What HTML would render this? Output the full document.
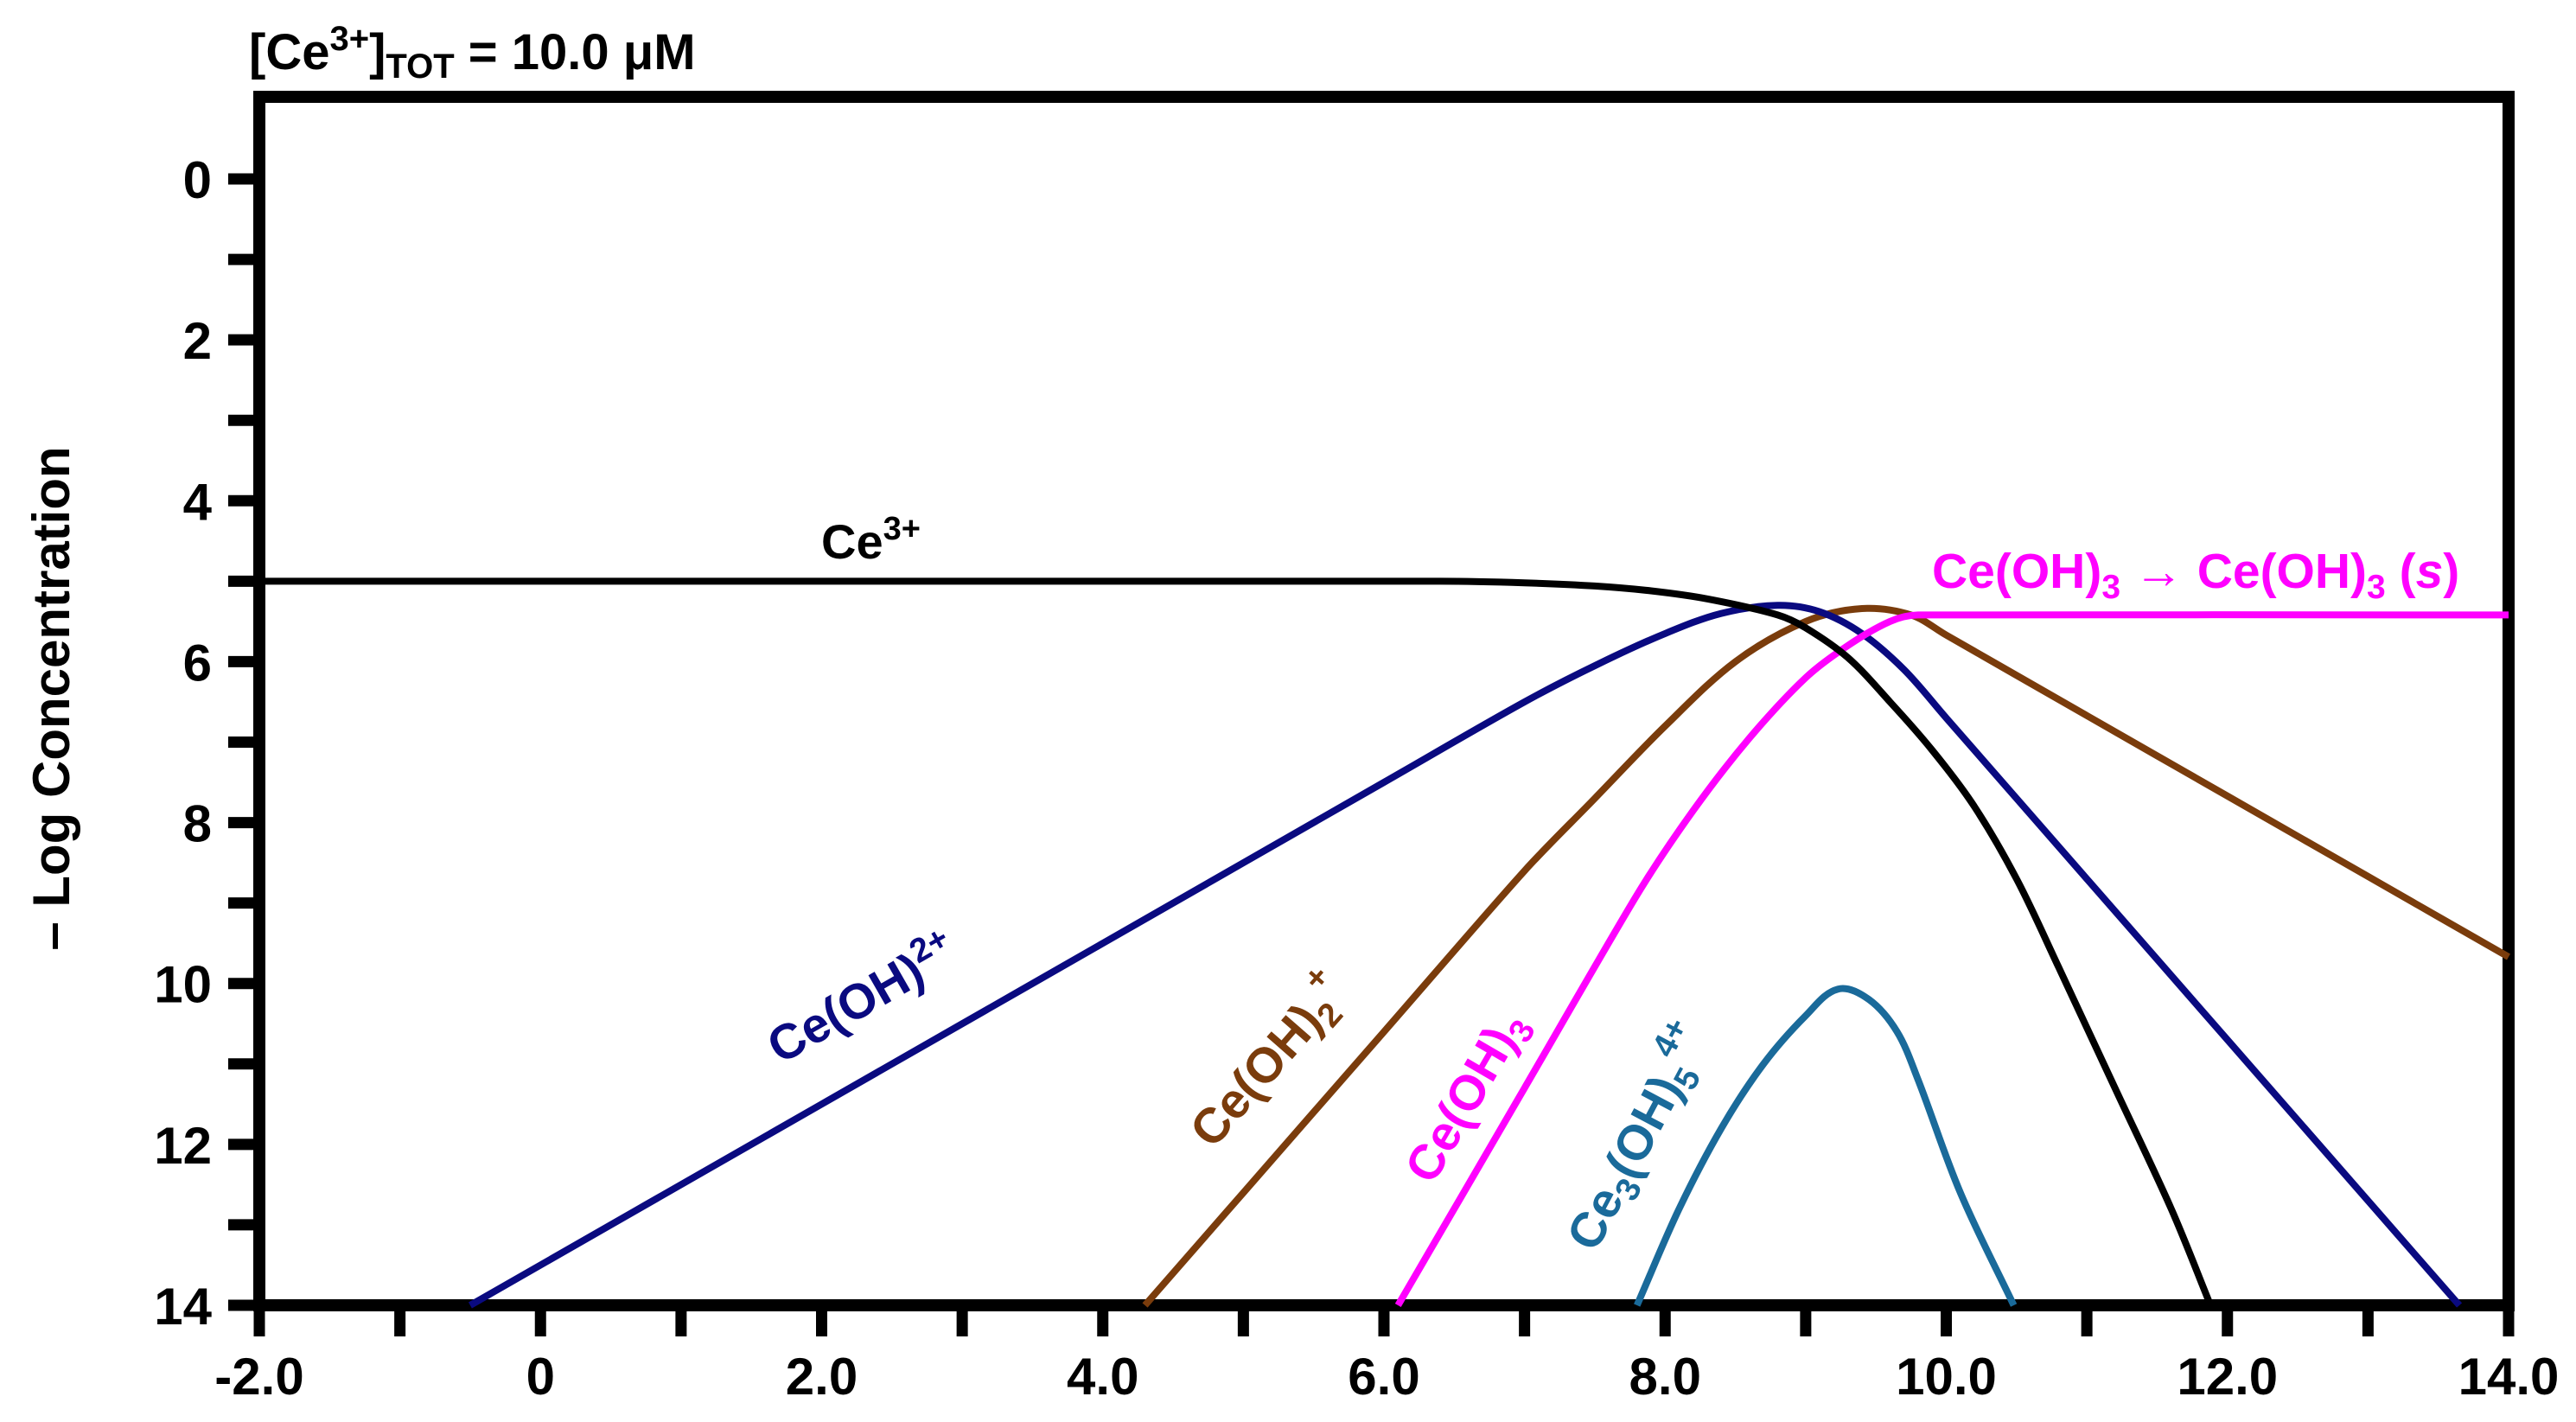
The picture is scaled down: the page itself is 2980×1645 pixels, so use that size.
<!DOCTYPE html>
<html><head><meta charset="utf-8"><style>
html,body{margin:0;padding:0;background:#fff;}
svg{display:block;font-family:"Liberation Sans",sans-serif;font-weight:bold;}
</style></head><body>
<svg id="chart" width="2980" height="1645" viewBox="0 0 2980 1645" xmlns="http://www.w3.org/2000/svg">
<g id="axes"></g>
<g id="series"></g>
<text x="288" y="80" font-size="58">[Ce<tspan dy="-22" font-size="40">3+</tspan><tspan dy="22">]</tspan><tspan dy="10" font-size="40">TOT</tspan><tspan dy="-10"> = 10.0 μM</tspan></text>
<text transform="translate(80,808) rotate(-90)" text-anchor="middle" font-size="60">– Log Concentration</text>
<text x="950" y="646" font-size="56" fill="#000">Ce<tspan dy="-22" font-size="38">3+</tspan></text>
<text x="2235" y="680" font-size="57" fill="#ff00ff">Ce(OH)<tspan dy="12" font-size="39">3</tspan><tspan dy="-12"> → Ce(OH)</tspan><tspan dy="12" font-size="39">3</tspan><tspan dy="-12"> (</tspan><tspan font-style="italic">s</tspan>)</text>
<text transform="translate(1007,1172) rotate(-29.8)" text-anchor="middle" font-size="57" fill="#0a0a80">Ce(OH)<tspan dy="-22" font-size="39">2+</tspan></text>
<text transform="translate(1482,1240) rotate(-48.8)" text-anchor="middle" font-size="57" fill="#7a3c0c">Ce(OH)<tspan dy="12" font-size="39">2</tspan><tspan dy="-40" font-size="39">+</tspan></text>
<text transform="translate(1712,1278) rotate(-59.8)" text-anchor="middle" font-size="57" fill="#ff00ff">Ce(OH)<tspan dy="12" font-size="39">3</tspan></text>
<text transform="translate(1912,1325) rotate(-62)" text-anchor="middle" font-size="57" fill="#1a6a9a">Ce<tspan dy="12" font-size="39">3</tspan><tspan dy="-12">(OH)</tspan><tspan dy="12" font-size="39">5</tspan><tspan dy="-40" font-size="39">4+</tspan></text>
</svg>
<script>
const xTicks = [-2,-1,0,1,2,3,4,5,6,7,8,9,10,11,12,13,14];
const xTickLabels = ["-2.0","","0","","2.0","","4.0","","6.0","","8.0","","10.0","","12.0","","14.0"];
const yTicks = [0,1,2,3,4,5,6,7,8,9,10,11,12,13,14];
const yTickLabels = ["0","","2","","4","","6","","8","","10","","12","","14"];
const ce3PH = [-2,6.4,7.0,7.5,7.9,8.3,8.8,9.0,9.3,9.6,9.9,10.2,10.5,10.8,11.2,11.6,11.88];
const ce3Val = [5,5,5.02,5.06,5.12,5.22,5.42,5.58,5.95,6.5,7.1,7.8,8.7,9.8,11.3,12.8,14];
const ceohPH = [-0.5,2,4,6,7,7.5,8,8.4,8.8,9.1,9.4,9.7,10,11,12,13,13.65];
const ceohVal = [14,11.5,9.5,7.5,6.5,6.05,5.65,5.4,5.3,5.38,5.65,6.1,6.7,8.7,10.7,12.7,14];
const ceoh2PH = [4.3,5,6,7,7.5,8,8.5,9,9.4,9.75,10,11,12,13,14];
const ceoh2Val = [14,12.6,10.6,8.6,7.7,6.8,6.0,5.5,5.34,5.42,5.67,6.67,7.67,8.67,9.67];
const ceoh3PH = [6.1,7,7.8,8.2,8.6,9,9.3,9.6,9.8,14];
const ceoh3Val = [14,11.3,8.9,7.85,6.95,6.2,5.8,5.5,5.42,5.42];
const ce3oh5PH = [7.8,8.1,8.4,8.7,9.0,9.23,9.45,9.65,9.8,10.1,10.48];
const ce3oh5Val = [14,12.8,11.8,11.0,10.4,10.07,10.2,10.6,11.2,12.6,14];

const NS = "http://www.w3.org/2000/svg";
const X = v => 300 + (v + 2) * (2602 / 16);
const Y = v => 207 + v * (1303 / 14);
function mk(tag, attrs, parent){const e=document.createElementNS(NS,tag);for(const k in attrs)e.setAttribute(k,attrs[k]);parent.appendChild(e);return e;}
const axes=document.getElementById('axes'), series=document.getElementById('series');

const frame = mk('rect',{x:300,y:112,width:2602,height:1398,fill:'none',stroke:'#000','stroke-width':14},axes);


xTicks.forEach((t,i)=>{
  const l=mk('line',{x1:X(t),x2:X(t),y1:1510,y2:1546,stroke:'#000','stroke-width':13},axes);
  
  
  if(xTickLabels[i]){
    const tx=mk('text',{x:X(t),y:1613,'text-anchor':'middle','font-size':60},axes);
    tx.textContent=xTickLabels[i];
    
    
  }
});
yTicks.forEach((t,i)=>{
  const l=mk('line',{x1:264,x2:300,y1:Y(t),y2:Y(t),stroke:'#000','stroke-width':13},axes);
  
  
  if(yTickLabels[i]){
    const tx=mk('text',{x:245,y:Y(t)+22,'text-anchor':'end','font-size':60},axes);
    tx.textContent=yTickLabels[i];
    
    
  }
});
function unitDir(a,b){const dx=b[0]-a[0],dy=b[1]-a[1],l=Math.hypot(dx,dy)||1;return [dx/l,dy/l];}
function line(xs,vs,color,name){
  const P=xs.map((x,i)=>[X(x),Y(vs[i])]);
  const T=P.map((p,i)=>unitDir(P[i>0?i-1:i],P[i<P.length-1?i+1:i]));
  let d='M'+P[0][0]+','+P[0][1];
  for(let i=0;i<P.length-1;i++){
    const p1=P[i],p2=P[i+1];
    const L=Math.hypot(p2[0]-p1[0],p2[1]-p1[1])/3;
    const L1=Math.min(L,60),L2=Math.min(L,60);
    const c1=[p1[0]+T[i][0]*L1,p1[1]+T[i][1]*L1];
    const c2=[p2[0]-T[i+1][0]*L2,p2[1]-T[i+1][1]*L2];
    d+=' C'+c1[0].toFixed(1)+','+c1[1].toFixed(1)+' '+c2[0].toFixed(1)+','+c2[1].toFixed(1)+' '+p2[0].toFixed(1)+','+p2[1].toFixed(1);
  }
  const p=mk('path',{d:d,fill:'none',stroke:color,'stroke-width':8,'stroke-linejoin':'round'},series);
  
  
}
line(ce3oh5PH,ce3oh5Val,'#1a6a9a','series-ce3oh5');
line(ceoh2PH,ceoh2Val,'#7a3c0c','series-ceoh2');
line(ceohPH,ceohVal,'#0a0a80','series-ceoh');
line(ceoh3PH,ceoh3Val,'#ff00ff','series-ceoh3');
line(ce3PH,ce3Val,'#000000','series-ce3');
</script>
</body></html>
